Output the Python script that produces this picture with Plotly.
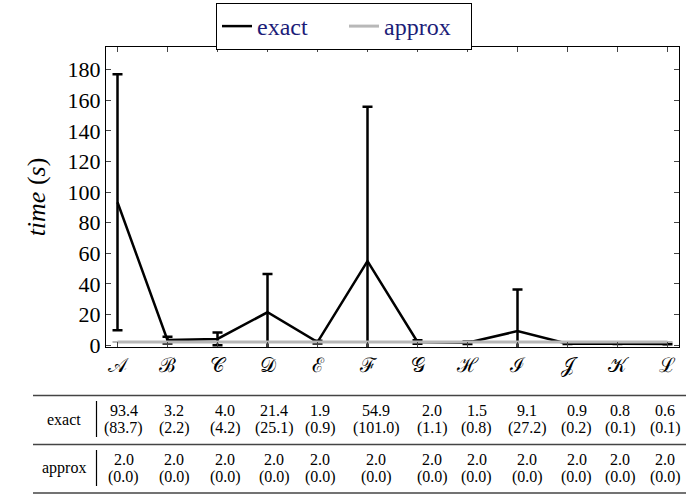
import plotly.graph_objects as go

categories = ["𝒜", "ℬ", "𝒞", "𝒟", "ℰ", "ℱ", "𝒢", "ℋ", "ℐ", "𝒥", "𝒦", "ℒ"]
exact_mean = [93.4, 3.2, 4.0, 21.4, 1.9, 54.9, 2.0, 1.5, 9.1, 0.9, 0.8, 0.6]
exact_std = [83.7, 2.2, 4.2, 25.1, 0.9, 101.0, 1.1, 0.8, 27.2, 0.2, 0.1, 0.1]
approx_mean = [2.0] * 12
approx_std = [0.0] * 12
y_ticks = [0, 20, 40, 60, 80, 100, 120, 140, 160, 180]

FONT = "Liberation Serif"
W, H = 686, 496
ML, MR, MT, MB = 106, 7, 47, 149
PW = W - ML - MR
PH = H - MT - MB

def px_x(x):
    return (x - ML) / PW

def px_y(y):
    return (H - MB - y) / PH

xs = list(range(len(categories)))

fig = go.Figure()
fig.add_trace(go.Scatter(
    x=xs, y=exact_mean, mode="lines", name="exact",
    line=dict(color="black", width=2.5),
    error_y=dict(type="data", array=exact_std, visible=True, color="black", thickness=2.5, width=5),
))
fig.add_trace(go.Scatter(
    x=xs, y=approx_mean, mode="lines", name="approx",
    line=dict(color="#b8b8b8", width=3),
    error_y=dict(type="data", array=approx_std, visible=True, color="#b8b8b8", thickness=2, width=5),
))

fig.update_layout(
    width=W, height=H,
    margin=dict(l=ML, r=MR, t=MT, b=MB, pad=0, autoexpand=False),
    plot_bgcolor="white", paper_bgcolor="white",
    font=dict(family=FONT, color="black", size=20),
    showlegend=True,
    legend=dict(
        orientation="h", x=px_x(344), y=px_y(3), xanchor="center", yanchor="top",
        bordercolor="black", borderwidth=1, bgcolor="white",
        font=dict(family=FONT, size=24, color="#1c1c78"),
        itemwidth=30, tracegroupgap=0, entrywidth=82, entrywidthmode="pixels",
    ),
    xaxis=dict(
        range=[-0.23, 11.23], tickmode="array", tickvals=xs, ticktext=categories,
        showgrid=False, zeroline=False, showline=True, linecolor="black", linewidth=1,
        mirror="ticks", ticks="inside", ticklen=5, tickcolor="#444",
        tickfont=dict(family="DejaVu Serif", size=20, color="black"),
        automargin=False,
    ),
    yaxis=dict(
        range=[-1.3, 194.9], tickmode="array", tickvals=y_ticks,
        ticktext=[str(v) for v in y_ticks],
        showgrid=False, zeroline=False, showline=True, linecolor="black", linewidth=1,
        mirror="ticks", ticks="inside", ticklen=5, tickcolor="#444",
        tickfont=dict(family=FONT, size=22, color="black"),
        title=dict(text="<i>time</i> (<i>s</i>)", font=dict(family=FONT, size=26), standoff=14),
        automargin=False,
    ),
)

# Table below the chart
col_px = [123.7, 174.3, 225, 274, 320, 376, 432, 476.7, 527, 576.7, 620, 665]
rows = [("exact", exact_mean, exact_std, 419), ("approx", approx_mean, approx_std, 468)]
for label, means, stds, yc in rows:
    fig.add_annotation(x=px_x(64), y=px_y(yc), xref="paper", yref="paper", text=label,
                       showarrow=False, xanchor="center", yanchor="middle",
                       font=dict(family=FONT, size=16, color="black"))
    fig.add_shape(type="line", xref="paper", yref="paper",
                  x0=px_x(96.5), x1=px_x(96.5), y0=px_y(yc - 18), y1=px_y(yc + 18),
                  line=dict(color="black", width=1.2))
    for cx, m, s in zip(col_px, means, stds):
        fig.add_annotation(x=px_x(cx), y=px_y(yc - 8.5), xref="paper", yref="paper",
                           text=f"{m:.1f}", showarrow=False, xanchor="center", yanchor="middle",
                           font=dict(family=FONT, size=16, color="black"))
        fig.add_annotation(x=px_x(cx), y=px_y(yc + 8.5), xref="paper", yref="paper",
                           text=f"({s:.1f})", showarrow=False, xanchor="center", yanchor="middle",
                           font=dict(family=FONT, size=16, color="black"))

for yr in [395.5, 444.5, 493]:
    fig.add_shape(type="line", xref="paper", yref="paper",
                  x0=px_x(33), x1=px_x(690), y0=px_y(yr), y1=px_y(yr),
                  line=dict(color="#444", width=1.5))

fig.write_html("out.html", config={"displayModeBar": False},
               post_script="document.body.style.margin='0px';")
